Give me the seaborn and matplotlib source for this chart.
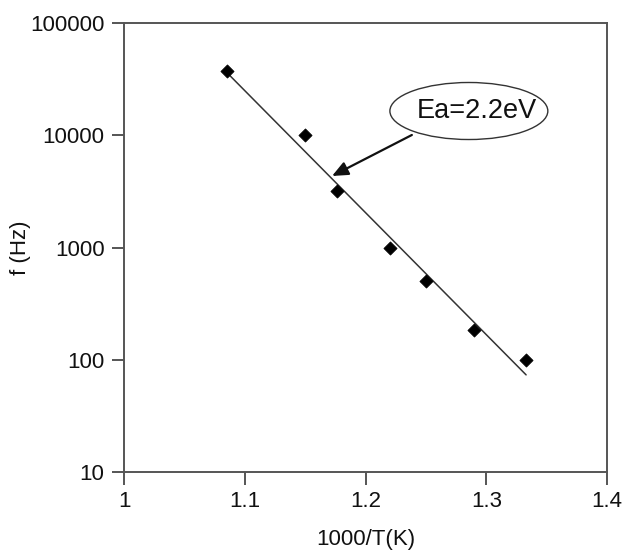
import numpy as np
import pandas as pd
import matplotlib
matplotlib.use("Agg")
import matplotlib.pyplot as plt
from matplotlib.patches import Ellipse
import seaborn as sns

# Data
inv_T = [1.085, 1.15, 1.1765, 1.22, 1.25, 1.29, 1.333]
freq = [37000, 10000, 3200, 1000, 500, 185, 100]
x_ticks = [1.0, 1.1, 1.2, 1.3, 1.4]
x_tick_labels = ["1", "1.1", "1.2", "1.3", "1.4"]
y_ticks = [10, 100, 1000, 10000, 100000]
y_tick_labels = ["10", "100", "1000", "10000", "100000"]
annotation_text = "Ea=2.2eV"

sns.set_theme(style="white")
plt.rcParams['font.family'] = ['Liberation Sans', 'DejaVu Sans']

df = pd.DataFrame({"x": inv_T, "f": freq})

# Exponential (log-linear) trend line fitted to the data
coef = np.polyfit(np.array(inv_T), np.log10(np.array(freq)), 1)
fit_x = np.array([min(inv_T), max(inv_T)])
fit_df = pd.DataFrame({"x": fit_x, "f": 10 ** np.polyval(coef, fit_x)})

fig = plt.figure(figsize=(6.26, 5.54), dpi=100)
ax = fig.add_axes([124 / 626, 82 / 554, 483 / 626, 449 / 554])

sns.lineplot(data=fit_df, x="x", y="f", ax=ax, color="#333333", linewidth=1.1)
sns.scatterplot(data=df, x="x", y="f", ax=ax, marker="D", s=45, color="black",
                edgecolor="black", zorder=3)

ax.set_yscale("log")
ax.set_xlim(1.0, 1.4)
ax.set_ylim(10, 100000)
ax.set_xticks(x_ticks)
ax.set_xticklabels(x_tick_labels)
ax.set_yticks(y_ticks)
ax.set_yticklabels(y_tick_labels)
ax.yaxis.set_minor_locator(matplotlib.ticker.NullLocator())

for sp in ax.spines.values():
    sp.set_visible(True)
    sp.set_color("#555555")
    sp.set_linewidth(1.4)

ax.tick_params(axis="both", which="major", direction="out", length=9, width=1.4,
               color="#555555", labelsize=16, labelcolor="#111111",
               left=True, bottom=True)
ax.tick_params(axis="x", pad=5)
ax.tick_params(axis="y", pad=5)

ax.set_xlabel("1000/T(K)", fontsize=16, color="#111111", labelpad=12)
ax.set_ylabel("f (Hz)", fontsize=16, color="#111111")
ax.yaxis.set_label_coords(-0.215, 0.5)
ax.yaxis.label.set_va("center")

# Ellipse callout
ell = Ellipse((0.714, 0.804), 0.327, 0.127, transform=ax.transAxes,
              facecolor="white", edgecolor="#333333", linewidth=1.0, zorder=4)
ax.add_patch(ell)
ax.text(0.73, 0.804, annotation_text, transform=ax.transAxes, ha="center",
        va="center", fontsize=19.5, color="#111111", zorder=5)

ax.annotate("", xy=(1.1723, 4335), xycoords="data",
            xytext=(0.596, 0.7506), textcoords="axes fraction",
            arrowprops=dict(arrowstyle="-|>,head_length=0.8,head_width=0.35",
                            color="#111111", lw=1.6, shrinkA=0, shrinkB=0),
            zorder=4)

fig.savefig("out.png", dpi=100)
